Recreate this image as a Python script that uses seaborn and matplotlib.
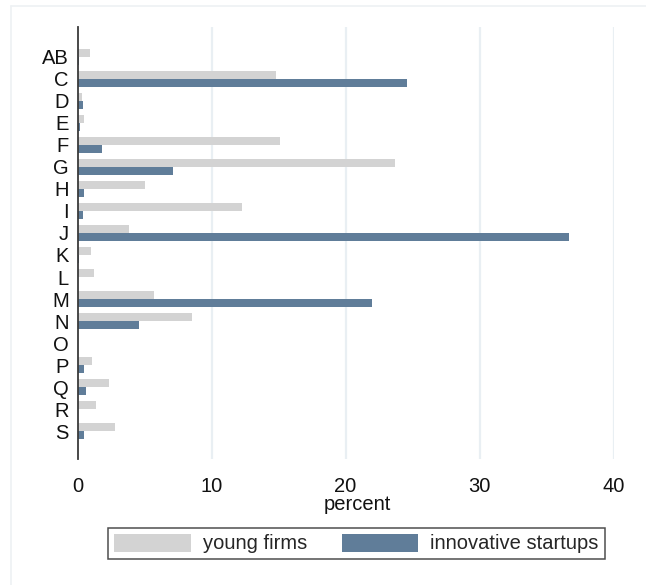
import matplotlib
matplotlib.use("Agg")
import matplotlib.pyplot as plt
from matplotlib.patches import Patch
from matplotlib.lines import Line2D
import pandas as pd
import seaborn as sns

# Sector shares (percent) by NACE section
sectors = ["AB", "C", "D", "E", "F", "G", "H", "I", "J", "K", "L",
           "M", "N", "O", "P", "Q", "R", "S"]
young_firms = [0.9, 14.8, 0.3, 0.5, 15.1, 23.7, 5.0, 12.3, 3.85, 1.0, 1.25,
               5.7, 8.5, 0.02, 1.1, 2.3, 1.35, 2.8]
innovative_startups = [0.1, 24.6, 0.37, 0.15, 1.8, 7.1, 0.47, 0.37, 36.7, 0.1, 0.05,
                       22.0, 4.6, 0.02, 0.5, 0.6, 0.05, 0.47]
group_names = ["young firms", "innovative startups"]
group_colors = ["#d3d3d3", "#607d99"]
x_ticks = [0, 10, 20, 30, 40]

df = pd.DataFrame({
    "sector": sectors * 2,
    "group": [group_names[0]] * len(sectors) + [group_names[1]] * len(sectors),
    "percent": young_firms + innovative_startups,
})

sns.set_style("white")
plt.rcParams["font.family"] = ["Liberation Sans", "DejaVu Sans"]

FS = 14.5
W, H = 646, 585
fig = plt.figure(figsize=(W / 100, H / 100), dpi=100)
fig.patch.set_facecolor("white")

left, right, top, bottom = 77.7, 613.5, 27, 459
ax = fig.add_axes([left / W, 1 - bottom / H, (right - left) / W, (bottom - top) / H])

sns.barplot(data=df, y="sector", x="percent", hue="group", order=sectors,
            hue_order=group_names, palette=group_colors, orient="h",
            width=0.74, gap=0, saturation=1, legend=False, ax=ax,
            edgecolor="none", linewidth=0, zorder=3)

ax.set_xlim(0, 40)
ax.set_ylim(18.27, -1.36)
ax.set_xticks(x_ticks)
ax.set_xticklabels([str(t) for t in x_ticks])
for t in x_ticks[1:]:
    ax.axvline(t, color="#e9eff3", lw=1.6, zorder=1)

for s in ["top", "right", "bottom"]:
    ax.spines[s].set_visible(False)
ax.spines["left"].set_color("#3a3a3a")
ax.spines["left"].set_linewidth(1.3)
ax.spines["left"].set_zorder(4)

ax.tick_params(axis="y", length=0, pad=6.5, labelsize=FS, labelcolor="#111111")
ax.tick_params(axis="x", length=7, width=1.1, color="#444444", pad=6,
               labelsize=FS, labelcolor="#111111", direction="out")
ax.set_ylabel("")
ax.set_xlabel("percent", fontsize=FS, color="#111111")
ax.xaxis.set_label_coords((357 - left) / (right - left), -(510 - bottom) / (bottom - top))
ax.xaxis.label.set_verticalalignment("baseline")

handles = [Patch(facecolor=c, edgecolor="none", label=n) for c, n in zip(group_colors, group_names)]
leg = fig.legend(handles=handles, ncol=2, loc="center",
                 bbox_to_anchor=((104 + 609) / 2 / W, 1 - (525 + 562) / 2 / H),
                 frameon=True, fancybox=False, fontsize=FS,
                 handlelength=3.8, handleheight=1.0, handletextpad=0.6,
                 columnspacing=1.7, borderpad=0.3, borderaxespad=0)
leg.get_frame().set_edgecolor("#222222")
leg.get_frame().set_linewidth(1.1)

# faint outer graph-region frame
fig.add_artist(Line2D([11 / W, 1], [1 - 6 / H, 1 - 6 / H], color="#eef1f4", lw=1.2,
                      transform=fig.transFigure))
fig.add_artist(Line2D([11 / W, 11 / W], [0, 1 - 6 / H], color="#eef1f4", lw=1.2,
                      transform=fig.transFigure))

fig.savefig("out.png", dpi=100, facecolor="white")
